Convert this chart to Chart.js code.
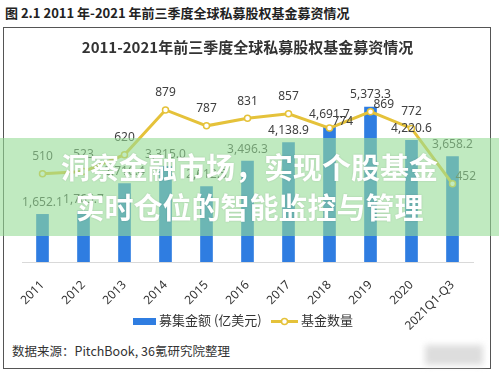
<!DOCTYPE html>
<html>
<head>
<meta charset="utf-8">
<script src="https://cdn.jsdelivr.net/npm/chart.js@4"></script>
<style>
  html, body { margin: 0; padding: 0; background: #fff; }
  body { width: 499px; height: 375px; position: relative; overflow: hidden;
         font-family: "Noto Sans", "Noto Sans CJK SC", sans-serif; }
  #figTitle { position: absolute; left: 5px; top: 3px; font-size: 13px; font-weight: bold; color: #222;
              font-family: "Noto Sans CJK SC", sans-serif; }
  #box { position: absolute; left: 3px; top: 27px; width: 486px; height: 340px;
         border: 1px solid #555; }
  #wrap { position: absolute; left: 4px; top: 28px; width: 485px; height: 312px; }
  #legend { position: absolute; left: 0; top: 311px; width: 499px; height: 18px;
            font-family: "Noto Sans CJK SC", sans-serif; font-size: 13px; color: #333; }
  #legend .item { position: absolute; top: 0; line-height: 18px; white-space: nowrap; }
  #legend .sw { display: inline-block; vertical-align: middle; margin-right: 3px; position: relative; }
  #source { position: absolute; left: 12px; top: 341px; font-size: 12.5px; color: #333;
            font-family: "Noto Sans CJK SC", sans-serif; }
  #band { position: absolute; left: 0; top: 138px; width: 499px; height: 98px;
          background: rgba(150, 220, 150, 0.6); }
  #bandText { position: absolute; left: 0; top: 146px; width: 499px; text-align: center;
              color: #fff; font-weight: bold; font-size: 29px; line-height: 40px;
              font-family: "Noto Sans CJK SC", sans-serif;
              text-shadow: 0 0 2px rgba(0,0,0,0.15); }
  #mark { position: absolute; left: 425px; top: 345px; width: 58px; height: 20px;
          background: #ddd; filter: blur(3px); }
</style>
</head>
<body>
<div id="figTitle">图 2.1 2011 年-2021 年前三季度全球私募股权基金募资情况</div>
<div id="box"></div>
<div id="wrap"><canvas id="chart"></canvas></div>
<div id="legend"></div>
<div id="source">数据来源：PitchBook, 36氪研究院整理</div>
<div id="mark"></div>
<div id="band"></div>
<div id="bandText">洞察金融市场，实现个股基金<br>实时仓位的智能监控与管理</div>
<script>
var years = ['2011', '2012', '2013', '2014', '2015', '2016', '2017', '2018', '2019', '2020', '2021Q1-Q3'];
var amounts = [1652.1, 1765.7, 2716.4, 3315.0, 2612.5, 3496.3, 4138.9, 4691.7, 5373.3, 4220.6, 3658.2];
var fundCounts = [510, 523, 620, 879, 787, 831, 857, 774, 869, 772, 452];

var blue = '#2F7DE1';
var gold = '#E5C23A';

// value labels, placed with the chart's own scales
var valueLabels = {
  id: 'valueLabels',
  afterDatasetsDraw: function (chart) {
    var ctx = chart.ctx;
    var lineMeta = chart.getDatasetMeta(0);
    var barMeta = chart.getDatasetMeta(1);
    ctx.save();
    ctx.font = '12px "Noto Sans", sans-serif';
    ctx.fillStyle = '#404040';
    ctx.textBaseline = 'middle';
    barMeta.data.forEach(function (bar, i) {
      var txt = amounts[i].toLocaleString('en-US', { minimumFractionDigits: 1, maximumFractionDigits: 1 });
      ctx.textAlign = 'center';
      ctx.fillText(txt, bar.x, bar.y - 12);
    });
    lineMeta.data.forEach(function (pt, i) {
      var barTop = barMeta.data[i].y;
      if (pt.y >= barTop - 3) {
        ctx.textAlign = 'left';
        ctx.fillText(String(fundCounts[i]), pt.x + 3, pt.y - 7);
      } else {
        ctx.textAlign = 'center';
        ctx.fillText(String(fundCounts[i]), pt.x, pt.y - 17);
      }
    });
    ctx.restore();
  }
};

var chart = new Chart(document.getElementById('chart'), {
  data: {
    labels: years,
    datasets: [
      {
        type: 'line',
        label: '基金数量',
        data: fundCounts,
        yAxisID: 'y1',
        borderColor: gold,
        borderWidth: 3,
        pointBackgroundColor: '#fff',
        pointBorderColor: gold,
        pointBorderWidth: 1.5,
        pointRadius: 3,
        order: 0
      },
      {
        type: 'bar',
        label: '募集金额 (亿美元)',
        data: amounts,
        yAxisID: 'y',
        backgroundColor: blue,
        barThickness: 12,
        order: 1
      }
    ]
  },
  options: {
    responsive: true,
    maintainAspectRatio: false,
    animation: false,
    layout: { padding: { left: 18, right: 16, top: 0, bottom: 3 } },
    plugins: {
      title: {
        display: true,
        text: '2011-2021年前三季度全球私募股权基金募资情况',
        color: '#333',
        font: { size: 15, weight: 'bold', family: '"Noto Sans CJK SC", sans-serif' },
        padding: { top: 10, bottom: 33 }
      },
      legend: { display: false },
      tooltip: { enabled: false }
    },
    scales: {
      x: {
        grid: { display: false },
        border: { display: true, color: '#d9d9d9' },
        ticks: {
          color: '#333',
          font: { size: 12, family: '"Noto Sans", sans-serif' },
          minRotation: 45,
          maxRotation: 45,
          padding: 8
        },
        afterFit: function (axis) { axis.height = 75; }
      },
      y: { display: false, min: 0, max: 6000 },
      y1: { display: false, min: 0, max: 1000 }
    }
  },
  plugins: [valueLabels]
});

// html legend, bar first then line
var legendEl = document.getElementById('legend');
var legendItems = [
  { ds: chart.data.datasets[1], left: 133 },
  { ds: chart.data.datasets[0], left: 271 }
];
legendItems.forEach(function (it) {
  var item = document.createElement('div');
  item.className = 'item';
  item.style.left = it.left + 'px';
  var sw = document.createElement('canvas');
  sw.className = 'sw';
  var g = sw.getContext('2d');
  if (it.ds.type === 'bar') {
    sw.width = 23; sw.height = 7;
    g.fillStyle = it.ds.backgroundColor;
    g.fillRect(0, 0, 23, 7);
  } else {
    sw.width = 27; sw.height = 9;
    g.strokeStyle = it.ds.borderColor;
    g.lineWidth = 3;
    g.beginPath(); g.moveTo(0, 4.5); g.lineTo(27, 4.5); g.stroke();
    g.fillStyle = '#fff';
    g.lineWidth = 1.5;
    g.beginPath(); g.arc(13.5, 4.5, 3, 0, Math.PI * 2); g.fill(); g.stroke();
  }
  item.appendChild(sw);
  item.appendChild(document.createTextNode(it.ds.label));
  legendEl.appendChild(item);
});
</script>
</body>
</html>
